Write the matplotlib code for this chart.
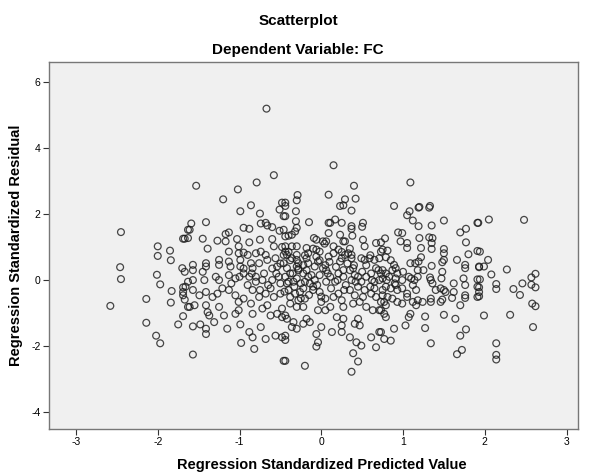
import numpy as np
import matplotlib
matplotlib.use("Agg")
import matplotlib.pyplot as plt

plt.rcParams['font.family'] = ['Liberation Sans', 'DejaVu Sans']
plt.rcParams['axes.unicode_minus'] = False

# (standardized predicted value, standardized residual)
left_pts = [
    (-2.45, 1.45), (-2.46, 0.39), (-2.45, 0.03), (-2.58, -0.78), (-2.00, 1.02), (-2.00, 0.73),
    (-1.85, 0.89), (-1.84, 0.60), (-2.01, 0.16), (-1.97, -0.13), (-2.14, -0.57), (-1.83, -0.33),
    (-1.84, -0.68), (-2.14, -1.29), (-2.02, -1.68), (-1.97, -1.91), (-1.75, -1.34), (-1.69, -1.09),
    (-1.69, 1.25), (-1.67, 1.25), (-1.63, 1.52), (-1.70, 0.36), (-1.67, 0.25), (-1.69, -0.22),
    (-1.69, -0.36), (-1.69, -0.46), (-1.67, -0.59), (-1.63, -0.81),
]

midleft_pts = [
    (-0.58, 3.17), (-0.79, 2.95), (-1.53, 2.85), (-1.02, 2.74), (-1.20, 2.44), (-0.99, 2.08),
    (-0.86, 2.26), (-0.75, 2.01), (-0.48, 2.34), (-0.51, 2.13), (-0.46, 1.93), (-1.59, 1.71),
    (-1.61, 1.52), (-1.63, 1.27), (-1.41, 1.75), (-1.45, 1.25), (-1.39, 0.95), (-1.27, 1.19),
    (-1.17, 1.39), (-1.13, 1.44), (-1.17, 1.17), (-1.03, 1.24), (-1.01, 1.02), (-0.95, 1.58),
    (-0.88, 1.55), (-0.74, 1.71), (-0.68, 1.73), (-0.66, 1.65), (-0.60, 1.60), (-0.51, 1.49),
    (-0.46, 1.52), (-0.88, 1.14), (-0.75, 1.22), (-0.74, 0.86), (-0.60, 1.24), (-0.58, 1.02),
    (-0.48, 1.00), (-0.46, 0.76), (-1.13, 0.86), (-1.01, 0.81), (-0.95, 0.83), (-0.90, 0.76),
    (-0.80, 0.81), (-0.68, 0.76), (-1.57, 0.46), (-1.57, 0.30), (-1.41, 0.51), (-1.41, 0.41),
    (-1.25, 0.61), (-1.25, 0.46), (-1.13, 0.56), (-1.11, 0.41), (-0.99, 0.61), (-0.99, 0.41),
    (-0.86, 0.51), (-0.84, 0.36), (-0.76, 0.51), (-0.66, 0.61), (-0.56, 0.66), (-0.54, 0.41),
    (-1.63, -0.05), (-1.57, 0.00), (-1.45, 0.25), (-1.43, 0.00), (-1.29, 0.10), (-1.25, 0.00),
    (-1.13, 0.15), (-1.05, 0.05), (-0.95, 0.20), (-0.88, 0.10), (-0.80, 0.10), (-0.72, 0.00),
    (-0.60, 0.00), (-0.52, 0.10), (-1.66, -0.20), (-1.57, -0.30), (-1.49, -0.46), (-1.41, -0.36),
    (-1.33, -0.51), (-1.27, -0.41), (-1.21, -0.25), (-1.13, -0.30), (-1.05, -0.46), (-1.01, -0.66),
    (-0.95, -0.56), (-0.84, -0.30), (-0.76, -0.51), (-0.68, -0.41), (-0.62, -0.25), (-0.58, -0.51),
    (-0.50, -0.41), (-1.61, -0.81), (-1.55, -0.76), (-1.41, -0.76), (-1.39, -0.97), (-1.37, -1.07),
    (-1.25, -0.81), (-1.19, -1.07), (-1.05, -1.02), (-1.01, -0.91), (-0.86, -0.71), (-0.84, -1.02),
    (-0.72, -0.86), (-0.66, -0.76), (-0.62, -1.07), (-0.54, -1.02), (-0.48, -0.86), (-1.57, -1.40),
    (-1.48, -1.34), (-1.41, -1.47), (-1.41, -1.63), (-1.31, -1.27), (-1.15, -1.47), (-0.99, -1.34),
    (-0.88, -1.57), (-0.84, -1.73), (-0.74, -1.42), (-0.68, -1.78), (-0.56, -1.68), (-0.48, -1.73),
    (-0.48, -1.12), (-0.98, -1.90), (-0.82, -2.08), (-1.57, -2.25), (-0.46, -2.44),
]

center_pts = [
    (-0.67, 5.18), (0.15, 3.47), (0.40, 2.85), (0.09, 2.58), (-0.29, 2.57), (-0.30, 2.41),
    (-0.44, 2.34), (-0.44, 2.24), (0.29, 2.44), (0.42, 2.46), (0.23, 2.24), (0.27, 2.26),
    (0.37, 2.10), (-0.31, 2.08), (-0.31, 1.78), (-0.30, 1.58), (-0.32, 1.47), (-0.15, 1.75),
    (0.09, 1.73), (0.11, 1.73), (0.17, 1.83), (0.09, 1.42), (0.25, 1.73), (0.37, 1.63),
    (0.37, 1.55), (0.38, 1.34), (0.51, 1.73), (0.50, 1.61), (-0.44, 1.93), (-0.44, 1.32),
    (-0.40, 1.34), (-0.36, 1.37), (-0.09, 1.27), (-0.06, 1.22), (0.02, 1.17), (0.06, 1.17),
    (0.04, 1.10), (0.27, 1.17), (0.29, 1.17), (0.15, 1.02), (0.23, 1.37), (0.51, 1.22),
    (0.53, 1.02), (0.67, 1.12), (0.73, 1.14), (-0.44, 1.02), (-0.36, 1.02), (-0.30, 1.02),
    (-0.44, 0.86), (-0.42, 0.76), (-0.36, 0.66), (-0.30, 0.76), (-0.30, 0.61), (-0.28, 0.51),
    (-0.30, 0.41), (-0.28, 0.30), (-0.18, 0.97), (-0.16, 0.81), (-0.18, 0.66), (-0.16, 0.51),
    (-0.06, 0.92), (-0.02, 0.86), (-0.06, 0.71), (-0.04, 0.56), (-0.08, 0.41), (0.02, 0.36),
    (0.09, 0.71), (0.15, 0.81), (0.21, 0.92), (0.25, 0.66), (0.23, 0.56), (0.29, 0.76),
    (0.33, 0.81), (0.37, 0.76), (0.37, 0.66), (0.49, 0.66), (0.53, 0.61), (0.59, 0.66),
    (0.65, 0.61), (0.71, 0.66), (0.73, 0.86), (-0.46, 0.51), (-0.42, 0.36), (-0.38, 0.20),
    (-0.44, 0.10), (-0.40, -0.05), (-0.42, -0.10), (-0.34, -0.05), (-0.22, 0.20), (-0.16, 0.10),
    (-0.20, -0.05), (-0.14, -0.10), (-0.08, 0.00), (-0.02, 0.15), (0.06, 0.30), (0.11, 0.10),
    (0.06, -0.05), (0.17, -0.05), (0.21, 0.20), (0.27, 0.10), (0.27, 0.30), (0.35, 0.30),
    (0.39, 0.36), (0.41, 0.15), (0.45, 0.10), (0.37, 0.00), (0.49, -0.05), (0.55, 0.10),
    (0.61, 0.20), (0.67, 0.36), (0.73, 0.20), (0.65, -0.05), (0.71, 0.00), (-0.40, -0.30),
    (-0.38, -0.51), (-0.32, -0.41), (-0.26, -0.36), (-0.22, -0.25), (-0.28, -0.61), (-0.20, -0.56),
    (-0.38, -0.71), (-0.30, -0.81), (-0.22, -0.81), (-0.10, -0.20), (-0.02, -0.36), (0.00, -0.66),
    (0.05, -0.56), (-0.04, -0.91), (0.05, -0.91), (0.11, -0.81), (0.15, -0.51), (0.21, -0.41),
    (0.25, -0.61), (0.27, -0.81), (0.19, -1.12), (0.35, -0.30), (0.41, -0.46), (0.39, -0.71),
    (0.47, -0.66), (0.53, -0.30), (0.51, -0.51), (0.61, -0.41), (0.65, -0.25), (0.67, -0.51),
    (0.55, -0.81), (0.63, -0.91), (0.73, -0.66), (0.71, -0.91), (-0.44, -1.07), (-0.42, -1.17),
    (-0.34, -1.27), (-0.30, -1.47), (-0.36, -1.42), (-0.22, -1.32), (-0.18, -1.17), (-0.14, -1.27),
    (0.00, -1.42), (0.13, -1.57), (0.25, -1.37), (0.25, -1.57), (0.27, -1.17), (0.35, -1.73),
    (0.41, -1.32), (0.45, -1.17), (0.47, -1.37), (-0.06, -1.63), (-0.04, -1.88), (-0.06, -2.01),
    (0.43, -1.88), (0.49, -1.98), (0.61, -1.73), (0.71, -1.57), (-0.44, -1.68), (-0.44, -1.81),
    (0.39, -2.21), (0.45, -2.46), (0.37, -2.77), (-0.20, -2.59), (-0.44, -2.44), (0.67, -2.03),
]

# extra points in the dark core where circles overlap
core_pts = [
    (-0.35, 0.20), (-0.30, 0.05), (-0.25, -0.10), (-0.33, -0.20), (-0.28, 0.35), (-0.22, 0.45),
    (-0.38, 0.60), (-0.18, 0.30), (-0.12, 0.15), (-0.10, -0.30), (-0.05, -0.15), (-0.15, -0.45),
    (-0.25, -0.55), (-0.45, -0.35), (-0.50, -0.10), (-0.55, 0.20), (-0.60, 0.35), (-0.65, -0.15),
    (-0.70, 0.20), (-0.75, -0.30), (0.05, 0.45), (0.10, 0.55), (0.18, 0.40), (0.20, 0.00),
    (0.30, -0.15), (0.32, 0.50), (0.40, 0.45), (0.45, -0.20), (0.50, 0.25), (0.55, 0.45),
    (0.60, -0.20), (0.62, 0.00), (0.42, -0.05), (0.28, -0.30), (0.12, -0.25), (0.00, -0.50),
    (0.08, 0.20), (-0.02, 0.60), (0.25, 0.85), (0.35, 0.95), (-0.40, 0.85), (-0.50, 0.50),
    (-0.85, 0.20), (-0.90, -0.15), (-1.00, 0.10), (-1.10, -0.10), (-0.80, -0.05), (-0.95, 0.35),
    (0.80, 0.00), (0.90, -0.10), (0.85, 0.60), (1.00, 0.25), (1.10, 0.05), (1.25, 0.30),
    (1.40, -0.30), (0.70, 0.30), (0.75, -0.30), (0.60, 0.75), (-0.20, 0.75), (-0.10, 0.95),
]

midright_pts = [
    (1.09, 2.95), (0.89, 2.24), (1.19, 2.19), (1.20, 2.21), (1.32, 2.19), (1.33, 2.24),
    (1.05, 1.96), (1.08, 2.08), (1.12, 1.80), (1.19, 1.63), (1.35, 1.65), (1.50, 1.80),
    (1.70, 1.44), (1.77, 1.55), (1.91, 1.73), (0.78, 1.26), (0.94, 1.44), (0.99, 1.42),
    (0.97, 1.17), (1.05, 1.12), (1.05, 0.97), (1.20, 1.27), (1.32, 1.29), (1.36, 1.27),
    (1.35, 1.12), (1.35, 0.94), (1.22, 0.97), (1.50, 0.94), (1.50, 0.81), (1.77, 1.14),
    (1.80, 0.78), (1.91, 0.88), (1.66, 0.61), (0.75, 0.92), (0.81, 0.89), (0.79, 0.69),
    (1.22, 0.69), (1.19, 0.56), (1.50, 0.61), (1.48, 0.54), (1.76, 0.46), (1.76, 0.36),
    (1.93, 0.41), (0.89, 0.46), (0.91, 0.36), (0.87, 0.30), (1.09, 0.51), (1.15, 0.51),
    (1.18, 0.30), (1.35, 0.43), (1.48, 0.25), (0.75, 0.30), (0.79, 0.20), (0.83, 0.10),
    (0.75, 0.05), (0.93, 0.20), (0.99, 0.00), (0.91, 0.05), (1.07, 0.10), (1.14, 0.00),
    (1.18, 0.10), (1.33, 0.08), (1.34, 0.00), (1.36, -0.10), (1.47, 0.05), (1.46, -0.25),
    (1.50, -0.30), (1.52, -0.36), (1.62, -0.10), (1.62, -0.36), (1.60, -0.54), (1.74, 0.05),
    (1.76, -0.15), (1.76, -0.46), (1.76, -0.54), (1.91, 0.02), (1.91, -0.20), (1.91, -0.51),
    (0.79, -0.20), (0.85, -0.25), (0.91, -0.15), (0.93, -0.30), (0.99, -0.25), (1.05, -0.41),
    (1.12, -0.15), (1.16, -0.30), (0.75, -0.46), (0.81, -0.51), (0.77, -0.66), (0.79, -0.76),
    (0.73, -0.91), (0.87, -0.56), (0.93, -0.66), (0.99, -0.71), (1.05, -0.51), (1.12, -0.66),
    (1.16, -0.76), (1.18, -0.61), (1.24, -0.66), (1.34, -0.56), (1.34, -0.66), (1.46, -0.66),
    (1.48, -0.59), (1.70, -0.76), (0.77, -1.02), (0.79, -1.12), (1.07, -1.12), (1.09, -1.02),
    (1.03, -1.37), (1.27, -1.10), (1.27, -1.45), (1.50, -1.05), (1.64, -1.17), (0.89, -1.47),
    (0.77, -1.78), (0.85, -1.83), (1.34, -1.91), (1.70, -1.68), (1.77, -1.49), (1.72, -2.11),
    (1.66, -2.24), (0.73, -1.57),
]

right_pts = [
    (1.92, 1.73), (2.05, 1.83), (2.48, 1.82), (1.94, 0.86), (2.04, 0.61), (1.99, 0.41),
    (1.93, 0.39), (2.27, 0.32), (2.08, 0.17), (1.94, 0.02), (2.14, -0.12), (2.14, -0.27),
    (1.93, -0.22), (1.93, -0.36), (1.93, -0.49), (2.35, -0.27), (2.46, -0.10), (2.43, -0.45),
    (2.57, 0.08), (2.62, 0.19), (2.57, -0.14), (2.62, -0.22), (2.58, -0.71), (2.62, -0.79),
    (1.99, -1.07), (2.31, -1.05), (2.59, -1.42), (2.14, -1.91), (2.14, -2.26), (2.14, -2.40),
]

all_pts = np.array(left_pts + midleft_pts + center_pts + core_pts + midright_pts + right_pts)
pred = all_pts[:, 0]
resid = all_pts[:, 1]

x_ticks = [-3, -2, -1, 0, 1, 2, 3]
y_ticks = [-4, -2, 0, 2, 4, 6]

fig = plt.figure(figsize=(5.92, 4.75), dpi=100)
ax = fig.add_axes([49 / 592, 46 / 475, 529 / 592, 367 / 475])
ax.set_facecolor('#f0f0f0')

ax.scatter(pred, resid, s=24, facecolors='none', edgecolors='#1a1a1a',
           linewidths=0.9, alpha=0.8)

ax.set_xlim(-3.33, 3.14)
ax.set_ylim(-4.50, 6.59)
ax.set_xticks(x_ticks)
ax.set_yticks(y_ticks)
ax.tick_params(axis='both', direction='out', length=4.5, width=0.8, color='#333333',
               labelsize=7.5, pad=1.5)
for sp in ax.spines.values():
    sp.set_color('#777777')
    sp.set_linewidth(1.0)

ax.set_xlabel('Regression Standardized Predicted Value', fontsize=10.5, fontweight='bold')
ax.set_ylabel('Regression Standardized Residual', fontsize=10.5, fontweight='bold')
ax.xaxis.set_label_coords((322 - 49) / 529, (429 - 465) / 367)
ax.xaxis.label.set_va('center')
ax.yaxis.set_label_coords((16 - 49) / 529, 0.5)
ax.yaxis.label.set_va('center')

fig.text(298 / 592, 1 - 20.5 / 475, 'Scatterplot', ha='center', va='center',
         fontsize=11, fontweight='bold')
fig.text(298 / 592, 1 - 50 / 475, 'Dependent Variable: FC', ha='center', va='center',
         fontsize=11, fontweight='bold')

fig.savefig('out.png', dpi=100)
